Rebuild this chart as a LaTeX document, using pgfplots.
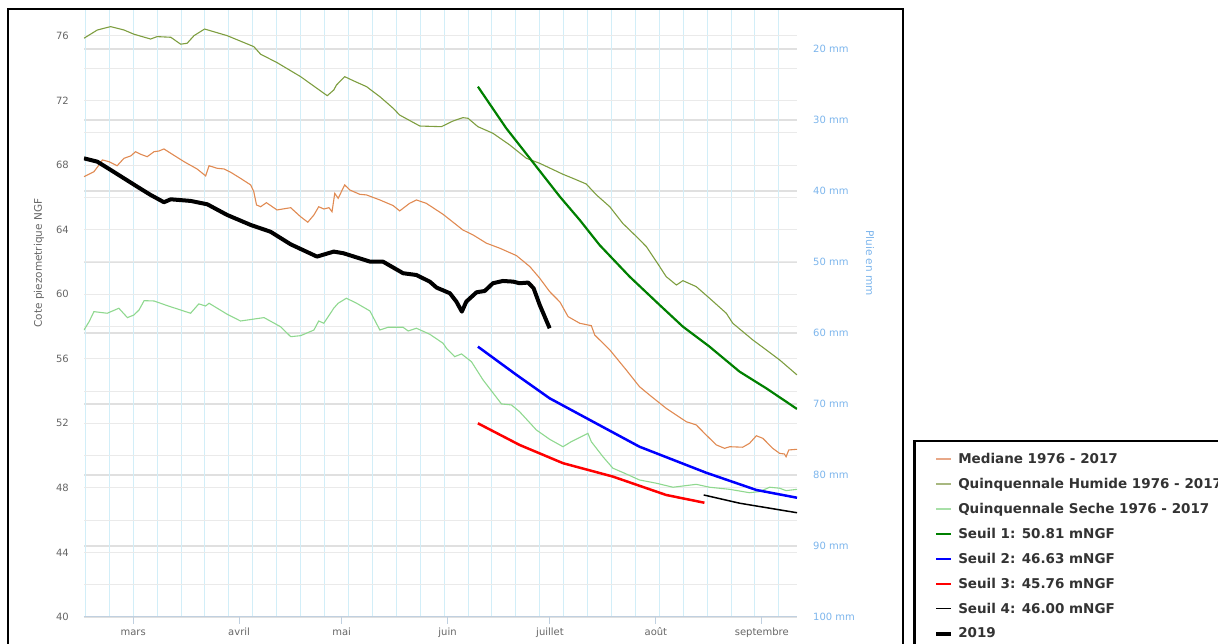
\documentclass[border=0pt]{standalone}
\usepackage{pgfplots}
\pgfplotsset{compat=1.18}
\usepackage{fontspec}
\setmainfont{DejaVu Sans}
\definecolor{cMed}{HTML}{E08A52}
\definecolor{cHum}{HTML}{7E9E40}
\definecolor{cSec}{HTML}{8FD88F}
\definecolor{cS1}{HTML}{008000}
\definecolor{cGridV}{HTML}{D2EEF8}
\definecolor{cGridH}{HTML}{EAEAEA}
\definecolor{cGridR}{HTML}{E0E0E0}
\definecolor{cAxis}{HTML}{C0D0E0}
\definecolor{cTick}{HTML}{666666}
\definecolor{cRight}{HTML}{7CB5EC}
\definecolor{cLeg}{HTML}{333333}
\begin{document}
\begin{tikzpicture}
\useasboundingbox (-84pt,-27pt) rectangle (1134pt,617pt);
% right axis (rain, mm)
\begin{axis}[
  scale only axis, width=713pt, height=607pt, at={(0pt,0pt)}, anchor=south west,
  clip mode=individual,
  xmin=-14.4, xmax=194.3, ymin=14.46, ymax=100, y dir=reverse,
  hide x axis, axis y line*=right, y axis line style={draw=none},
  ytick={20,30,...,100},
  yticklabels={20 mm,30 mm,40 mm,50 mm,60 mm,70 mm,80 mm,90 mm,100 mm},
  ytick style={draw=none}, major tick length=0pt,
  ymajorgrids, major y grid style={cGridR, line width=1.8pt},
  yticklabel style={font=\fontsize{10}{12}\selectfont, text=cRight, anchor=west, xshift=12.7pt},
]
\node[rotate=-90, font=\fontsize{10.5}{12}\selectfont, text=cRight] at (axis description cs:1.1024,0.583) {Pluie en mm};
\end{axis}
% left axis (piezometric level)
\begin{axis}[
  scale only axis, width=713pt, height=607pt, at={(0pt,0pt)}, anchor=south west,
  clip mode=individual,
  xmin=-14.4, xmax=194.3, ymin=40, ymax=77.61,
  axis x line*=bottom, axis y line*=left, y axis line style={draw=none},
  x axis line style={cAxis, line width=1pt, -},
  xtick={0,31,61,92,122,153,184},
  xticklabels={mars,avril,mai,juin,juillet,août,septembre},
  minor xtick={-14,-7,...,189},
  xminorgrids, minor x grid style={cGridV, line width=1pt},
  ytick={40,44,...,76}, minor ytick={42,46,...,74},
  ymajorgrids, yminorgrids,
  major y grid style={cGridH, line width=1pt}, minor y grid style={cGridH, line width=1pt},
  tick align=outside, major tick length=7pt, minor tick length=0pt,
  xtick style={cAxis, line width=1pt}, ytick style={draw=none},
  /pgf/number format/assume math mode=true,
  yticklabel style={font=\fontsize{10}{12}\selectfont, text=cTick, xshift=-4.7pt},
  xticklabel style={font=\fontsize{10}{12}\selectfont, text=cTick, text height=7.5pt, text depth=2pt},
  legend cell align=left,
  legend image code/.code={\draw[#1] (0pt,0pt) -- (15pt,0pt);},
  legend style={at={(1.16269,0.29160)}, anchor=north west, draw=black, line width=2.5pt,
    fill=white, font=\bfseries\fontsize{13.5}{15}\selectfont, text=cLeg,
    inner xsep=20pt, inner ysep=10pt, row sep=9.2pt,
    /tikz/every odd column/.append style={column sep=3pt}},
]
\addplot[cMed, line width=1.1pt, forget plot] coordinates {
(-14.4,67.28) (-11.5,67.59) (-10.0,68.01) (-9.0,68.32) (-7.1,68.21) (-4.7,67.96) (-2.7,68.42) (-0.7,68.57) (0.7,68.83) (2.2,68.67) (4.1,68.52) (6.1,68.83) (7.5,68.87) (9.0,69.00) (11.0,68.73) (14.9,68.21) (18.7,67.76) (21.2,67.33) (22.2,67.96) (24.6,67.80) (26.6,67.76) (28.5,67.56) (31.4,67.18) (34.4,66.77) (35.3,66.35) (36.1,65.53) (37.3,65.42) (39.0,65.67) (42.1,65.22) (46.1,65.36) (49.0,64.80) (51.1,64.46) (52.9,64.91) (54.3,65.42) (55.8,65.28) (57.3,65.36) (58.2,65.11) (59.0,66.25) (60.0,65.94) (61.9,66.77) (63.4,66.46) (66.3,66.19) (68.3,66.15) (72.2,65.84) (76.1,65.49) (78.0,65.16) (80.9,65.63) (82.9,65.84) (85.8,65.63) (90.7,64.95) (96.5,63.98) (99.5,63.67) (103.4,63.16) (107.3,62.85) (112.2,62.39) (116.1,61.71) (119.0,60.99) (121.9,60.16) (124.9,59.52) (127.3,58.61) (130.7,58.20) (134.1,58.05) (135.1,57.47) (139.5,56.55) (144.3,55.31) (148.2,54.27) (151.1,53.76) (156.0,52.93) (161.9,52.10) (164.8,51.90) (167.7,51.28) (170.7,50.66) (173.1,50.45) (174.6,50.55) (178.4,50.52) (180.4,50.76) (182.4,51.23) (184.3,51.07) (187.2,50.45) (189.2,50.14) (190.6,50.10) (191.1,49.93) (191.9,50.35) (194.3,50.39)
};
\addplot[cHum, line width=1.1pt, forget plot] coordinates {
(-14.4,75.86) (-10.5,76.37) (-6.6,76.58) (-2.7,76.37) (0.2,76.11) (5.1,75.81) (7.0,75.96) (11.0,75.92) (13.9,75.49) (15.8,75.55) (17.8,76.02) (20.9,76.43) (27.5,76.02) (35.3,75.34) (37.3,74.87) (42.1,74.35) (49.0,73.48) (56.8,72.30) (58.7,72.65) (59.5,72.96) (61.9,73.48) (64.4,73.23) (68.3,72.86) (72.2,72.24) (76.1,71.52) (78.0,71.10) (83.9,70.42) (90.2,70.38) (93.6,70.73) (96.5,70.94) (98.0,70.90) (100.9,70.38) (105.3,69.97) (110.2,69.25) (115.1,68.42) (119.0,68.11) (125.8,67.43) (128.7,67.18) (132.6,66.83) (135.6,66.15) (139.5,65.42) (143.3,64.39) (147.3,63.57) (150.2,62.95) (154.1,61.71) (156.0,61.09) (159.0,60.57) (160.9,60.84) (164.8,60.47) (168.7,59.75) (173.6,58.82) (175.5,58.20) (181.4,57.16) (185.3,56.55) (189.2,55.93) (194.3,55.00)
};
\addplot[cSec, line width=1.1pt, forget plot] coordinates {
(-14.4,57.78) (-12.9,58.30) (-11.5,58.92) (-7.6,58.82) (-4.2,59.13) (-1.7,58.55) (0.2,58.71) (1.7,59.02) (3.2,59.60) (6.1,59.58) (10.0,59.29) (13.9,59.02) (16.8,58.82) (19.2,59.40) (21.2,59.27) (22.2,59.44) (27.5,58.76) (31.4,58.34) (38.3,58.55) (43.1,57.99) (46.1,57.37) (49.0,57.43) (52.9,57.78) (54.3,58.34) (55.8,58.20) (58.7,59.13) (60.0,59.44) (62.4,59.75) (65.4,59.44) (69.3,58.96) (72.2,57.78) (74.6,57.95) (79.0,57.95) (80.5,57.72) (82.9,57.89) (86.8,57.52) (90.7,56.96) (91.7,56.65) (94.1,56.13) (96.1,56.30) (99.0,55.82) (102.4,54.69) (107.8,53.20) (110.7,53.14) (113.1,52.72) (118.0,51.59) (121.9,51.01) (125.8,50.55) (128.2,50.86) (133.1,51.38) (134.1,50.86) (137.5,49.93) (140.4,49.22) (143.8,48.91) (148.2,48.49) (153.1,48.29) (158.0,48.04) (164.8,48.22) (168.7,48.04) (174.6,47.91) (180.4,47.70) (183.3,47.77) (186.3,48.04) (189.2,47.98) (191.1,47.83) (194.3,47.91)
};
\addplot[cS1, line width=2.2pt, forget plot] coordinates {
(100.9,72.86) (109.2,70.28) (116.1,68.42) (124.9,66.04) (130.7,64.60) (136.5,63.05) (145.3,61.09) (154.1,59.33) (160.9,57.99) (168.7,56.75) (177.5,55.20) (185.3,54.17) (194.3,52.89)
};
\addplot[blue, line width=2.5pt, forget plot] coordinates {
(100.9,56.75) (112.2,55.00) (121.9,53.55) (134.6,52.10) (148.2,50.55) (167.7,48.94) (182.4,47.87) (194.3,47.39)
};
\addplot[red, line width=2.5pt, forget plot] coordinates {
(100.9,52.00) (113.1,50.66) (125.8,49.53) (140.4,48.70) (156.0,47.56) (167.2,47.08)
};
\addplot[black, line width=1.5pt, forget plot] coordinates {
(167.0,47.56) (177.5,47.05) (194.3,46.46)
};
\addplot[black, line width=4pt, line join=round, forget plot] coordinates {
(-14.4,68.42) (-10.5,68.21) (-6.6,67.70) (-2.7,67.18) (1.2,66.66) (5.1,66.15) (9.0,65.70) (11.0,65.88) (16.8,65.78) (21.7,65.57) (27.5,64.91) (34.4,64.29) (40.2,63.87) (46.1,63.09) (53.8,62.33) (58.7,62.64) (61.5,62.54) (69.3,62.02) (73.1,62.02) (79.0,61.30) (82.9,61.19) (86.8,60.78) (88.8,60.41) (92.7,60.06) (94.6,59.54) (96.2,58.92) (97.5,59.54) (100.5,60.12) (102.9,60.20) (105.3,60.68) (108.2,60.82) (111.2,60.78) (113.1,60.68) (115.6,60.72) (117.2,60.37) (119.0,59.33) (121.9,57.89)
};
\addlegendimage{color={rgb,255:red,232;green,168;blue,136}, line width=2.2pt}
\addlegendentry{Mediane 1976 - 2017}
\addlegendimage{color={rgb,255:red,168;green,184;blue,128}, line width=2.2pt}
\addlegendentry{Quinquennale Humide 1976 - 2017}
\addlegendimage{color={rgb,255:red,168;green,224;blue,168}, line width=2.6pt}
\addlegendentry{Quinquennale Seche 1976 - 2017}
\addlegendimage{cS1, line width=1.2pt}
\addlegendentry{Seuil 1: 50.81 mNGF}
\addlegendimage{blue, line width=2.8pt}
\addlegendentry{Seuil 2: 46.63 mNGF}
\addlegendimage{red, line width=2.2pt}
\addlegendentry{Seuil 3: 45.76 mNGF}
\addlegendimage{black, line width=1.2pt}
\addlegendentry{Seuil 4: 46.00 mNGF}
\addlegendimage{black, line width=4pt}
\addlegendentry{2019}
\node[rotate=90, font=\fontsize{10.5}{12}\selectfont, text=cTick] at (axis description cs:-0.0631,0.583) {Cote piezometrique NGF};
\end{axis}
\draw[line width=2.7pt] (-76pt,-60pt) -- (-76pt,608pt) -- (819pt,608pt) -- (819pt,-60pt);
\end{tikzpicture}
\end{document}
